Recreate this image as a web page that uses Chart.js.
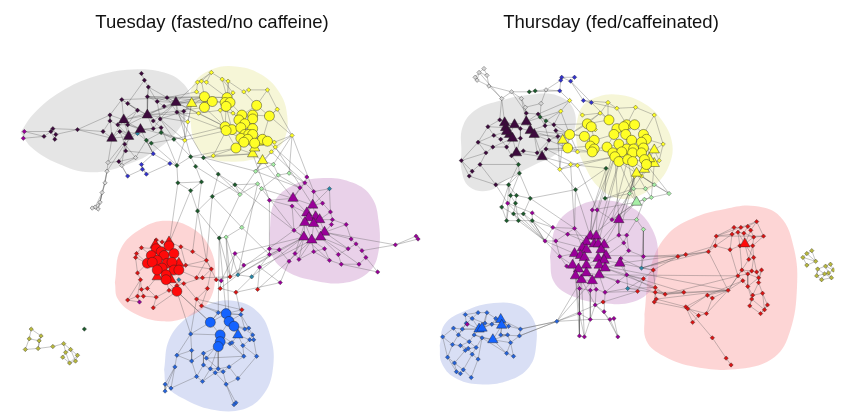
<!DOCTYPE html>
<html>
<head>
<meta charset="utf-8">
<script src="https://cdn.jsdelivr.net/npm/chart.js@4.4.0/dist/chart.umd.min.js"></script>
<style>
  body { margin: 0; background: #fff; }
  #wrap { position: relative; width: 841px; height: 419px; }
  .ttl { position: absolute; top: 11px; font: 18.5px "Liberation Sans", Arial, sans-serif; color: #111;
         transform: translateX(-50%); white-space: nowrap; }
</style>
</head>
<body>
<div id="wrap">
  <canvas id="net" width="841" height="419"></canvas>
  <div class="ttl" style="left:212px">Tuesday (fasted/no caffeine)</div>
  <div class="ttl" style="left:611px">Thursday (fed/caffeinated)</div>
</div>
<script>
// ---- Tuesday (fasted/no caffeine): node positions ----
const tueDarkTri = [[172,99],[119,117],[143,112],[136,127],[107,136],[124,134]];
const tueDark = [[137,69],[140,76],[144,83],[117,96],[123,100],[143,93],[153,98],[163,94],[133,107],[105,112],
  [105,118],[113,122],[123,122],[149,118],[156,116],[173,109],[157,125],[149,126],[98,129],[115,129],
  [120,142],[114,160],[121,149],[47,126],[45,129],[49,137],[38,134],[72,127],[50,132],[180,108],[160,103]];
const tueMagenta = [[18,129],[17,136]];
const tueViolet = [[149,152],[137,163],[138,168],[142,173],[123,175],[166,162]];
const tueGrey = [[103,161],[102,170],[100,182],[97,192],[95,202],[90,207],[87,208],[93,209],[131,156],[117,164]];
const tueGreen = [[142,138],[157,130],[147,141],[173,164],[170,137],[187,155],[192,165],[198,181],[174,182],[187,190],
  [194,211],[200,156],[215,173],[209,196],[232,184],[216,239],[79,333]];
const tueTeal = [[133,131],[235,277],[249,279],[175,282],[328,188]];
const tueLime = [[237,194],[253,170],[255,183],[259,188],[276,174],[239,228],[223,238],[271,163],[287,172]];
const tueYellowBig = [[201,93],[209,98],[201,104],[224,94],[222,99],[227,99],[223,103],[254,102],[239,112],[250,112],
  [267,113],[236,117],[250,116],[242,121],[222,124],[229,127],[238,125],[250,126],[223,128],[242,132],
  [246,132],[250,132],[238,136],[245,137],[260,137],[265,139],[252,141],[241,140],[233,146]];
const tueYellowTri = [[188,100],[250,152],[260,159],[252,146],[256,140]];
const tueYellow = [[208,68],[194,78],[198,77],[203,78],[219,75],[225,77],[241,88],[246,86],[265,86],[275,106],
  [195,110],[290,133],[181,138],[210,154],[272,140],[273,145],[269,150],[193,88],[230,89],[217,107],
  [230,110],[184,119]];
const tuePurpleTri = [[291,198],[311,205],[305,213],[314,217],[318,220],[307,218],[303,223],[312,224],[323,233],[302,238],
  [310,241],[319,238]];
const tuePurple = [[303,182],[298,187],[312,191],[321,203],[329,212],[331,220],[345,225],[330,225],[292,231],[350,240],
  [355,245],[361,252],[365,259],[358,266],[377,274],[340,266],[328,262],[312,253],[293,255],[287,263],
  [277,251],[267,250],[267,256],[297,261],[347,250],[337,256],[323,250],[395,246],[418,240],[416,237],
  [267,200],[232,255],[241,267],[257,269],[278,285],[218,283],[135,305],[305,176],[290,206]];
const tueRedBig = [[152,250],[157,253],[160,257],[165,247],[170,255],[147,257],[153,262],[143,265],[148,264],[163,265],
  [168,264],[158,270],[153,272],[170,272],[175,272],[162,277],[162,282],[173,294]];
const tueRedTri = [[151,246],[165,243],[175,265],[153,279],[167,282]];
const tueRed = [[137,249],[132,255],[131,259],[152,241],[158,243],[177,248],[189,253],[182,267],[203,262],[208,271],
  [199,280],[193,280],[204,291],[193,302],[198,309],[180,286],[165,293],[152,300],[139,299],[133,299],
  [143,291],[137,292],[123,303],[149,311],[173,288],[133,275],[136,282],[227,279],[217,291],[233,295],
  [239,313],[255,292],[213,282]];
const tueBlueBig = [[223,317],[207,326],[226,325],[231,330],[217,339],[217,346],[215,351]];
const tueBlueTri = [[235,339]];
const tueBlue = [[187,338],[188,355],[173,360],[188,366],[171,372],[161,390],[161,397],[167,394],[193,382],[199,387],
  [200,358],[200,370],[203,363],[207,374],[212,378],[215,374],[220,377],[226,372],[223,390],[235,384],
  [233,409],[231,411],[240,350],[247,344],[254,361],[241,361],[227,348],[229,347],[238,318],[242,333],
  [246,332],[250,339],[251,344],[215,316]];
const tueOlive = [[25,333],[35,340],[23,343],[33,345],[19,354],[32,353],[47,351],[58,348],[65,354],[60,357],
  [72,360],[57,362],[64,368],[70,366]];

// community outlines
const tueHullGrey = [[14,130],[28,110],[55,88],[90,72],[128,65],[160,68],[180,80],[187,98],[178,122],[155,146],
  [120,164],[85,171],[52,162],[26,146],[14,130]];
const tueHullYellow = [[186,112],[189,82],[208,65],[235,62],[260,71],[278,90],[285,112],[283,135],[271,150],[250,158],
  [225,160],[204,155],[191,140],[186,112]];
const tueHullPurple = [[267,235],[272,202],[292,184],[322,177],[352,182],[371,197],[378,222],[378,252],[369,273],[345,285],
  [313,283],[284,273],[269,256],[267,235]];
const tueHullRed = [[110,285],[116,250],[137,229],[162,221],[189,229],[206,248],[212,276],[205,305],[185,320],[158,325],
  [130,317],[113,302],[110,285]];
const tueHullBlue = [[160,375],[165,344],[182,322],[206,307],[232,304],[256,316],[268,340],[271,370],[262,399],[240,416],
  [208,416],[180,405],[163,392],[160,375]];

// edges: first id links to every following id
const tueEdges = [
  "k0 k1", "k1 k2 k4", "k2 K2 k5 k6 K0", "k3 k4 K1 k9 k8", "k4 K2 k8", "k5 K0 k6 k7 K2", "k6 k7 K0 k14",
  "k7 K0 k15", "k8 K2 K1 k12", "k9 k10 K1 K4", "k10 k11 k18", "k11 K1 k12 K5", "k12 K3 K2 K5", "k13 K2 K0 k16",
  "k14 K0 k29 k17", "k15 K0 y21 k29", "k16 K3 g1", "k17 K3 K2", "k18 K4 k27", "k19 K4 K5 k20", "k20 k22 K3",
  "k21 k22 w0 w8", "k22 K5", "k23 k24 k27 k28", "k24 k25 k26", "k25 k28", "k26 m0", "m0 m1 k24", "m1 k26",
  "k27 K4 k9", "k28 k27", "K0 Y0 Y1 YT0 y1 y10", "K2 K0 Y2 y21", "K1 K2 K4 K5", "K3 K5 K1", "k29 YT0 y12 Y0",
  "k30 K0 k6 K2", "k3 Y0", "K4 K5", "k12 y12", "k5 Y3", "k7 Y4 y17", "K0 Y14", "k15 Y18", "K2 y10", "k14 y12", "K1 Y0",
  "w0 w1 K4 K5", "w1 w2 k20", "w2 w3 w1", "w3 w4 w5", "w4 w5 w6 w7", "w5 w6", "w6 w7", "w7 w3", "w1 w4", "w2 w7",
  "w8 w9 k20 g0", "w9 n4 k21",
  "n0 n1 g0 k22", "n1 n2 n3", "n2 n3 n4", "n3 n5", "n5 g3 n0", "n4 k21",
  "g0 g1 t0 g2", "g1 g4 y12", "g2 g3 g4", "g3 g5 g8", "g4 g5 Y14", "g5 g6 g11", "g6 g7 l0", "g7 g8 g9", "g8 g9 R3",
  "g9 g10", "g10 g13 r8 g15", "g11 g12 YT1", "g12 g14 g13", "g13 g14 l5", "g14 l0 l2 p8", "g15 l6 r27 B0", "t0 K3 k19",
  "l0 l1 l2", "l1 l7 YT2 y16", "l2 l3", "l3 l4 P0", "l4 l7 l8 p1", "l5 l6 l3 p22", "l6 r27 t1 B2", "l7 YT2 y11", "l8 p0 y11",
  "Y0 Y1 Y2 Y3 y17", "Y1 Y4 Y2 YT0", "Y2 y10 Y14", "Y3 Y4 Y5 y4 y5", "Y4 Y6 Y11", "Y5 Y6 Y8 y18", "Y6 Y14 Y15",
  "Y7 Y8 Y9 Y10 y8", "Y8 Y9 Y11 Y12", "Y9 Y10 Y12 Y17", "Y10 Y24 y9 y11", "Y11 Y13 Y16", "Y12 Y13 Y17 Y21",
  "Y13 Y16 Y19", "Y14 Y15 Y18", "Y15 Y16 Y18 Y22", "Y16 Y19 Y20", "Y17 Y21 Y24", "Y18 Y28 Y22", "Y19 Y20 Y22 Y27",
  "Y20 Y21 Y23", "Y21 Y26 Y24", "Y22 Y23 Y28", "Y23 Y26 Y27", "Y24 Y25 YT4", "Y25 YT3 y14", "Y26 YT3 YT4",
  "Y27 Y28 YT3", "Y28 YT1 y13", "YT1 YT2 YT3", "YT2 y16 l1", "YT0 y12 y21", "y0 y1 y2 y3 y4", "y1 y17 y2", "y2 y3 Y0",
  "y3 Y3", "y4 y5 y18", "y5 y6 Y5", "y6 y7 Y7", "y7 y8", "y8 y9", "y9 Y10 y11", "y10 y19 Y14", "y11 y14 y15",
  "y13 YT1 Y18", "y15 y16", "y19 Y18 y20", "y20 Y13", "y12 Y18",
  "YT2 P0", "y16 p0", "Y25 p37", "YT1 p30", "y15 P1", "y11 p2",
  "P0 P1 P2 p0 p1", "P1 P2 P3 p2", "P2 P3 P5 P6", "P3 P4 P5 P7", "P4 P7 P8 p4 p5", "P5 P6 P7", "P6 P9 P10",
  "P7 P10 P11 P8", "P8 P11 p7 p6", "P9 P10 p8 p18 p23", "P10 P11 p17 p26", "P11 p25 p24", "p0 p37 p1 p2", "p2 p3",
  "p3 p4 P1", "p4 p5", "p5 p6 p7", "p6 p9", "p9 p10 P8", "p10 p11 p24", "p11 p12 p27", "p12 p13 p14", "p13 p15 P11",
  "p14 p15", "p15 p16 p25", "p16 p17 P9", "p17 p23 p26", "p18 p19 p23 P6", "p19 p20 p34", "p20 p21 p22 P9",
  "p21 p22 p30", "p22 p33 p32", "p23 P10", "p24 p25 P8", "p27 p28 p29 P8", "p28 p29", "p30 P0 p38", "p38 P2 P6",
  "p8 P6 P9 p38", "p31 p32 P9", "p33 p34 P10", "p35 p31 r28", "t4 p2 P1 p4", "p26 p16",
  "r27 p31 p32 t1", "t1 t2 p32 P9", "t2 p33 P9", "r29 t2 p34 b28", "r28 r29 t1", "r31 p33 P10", "r30 B0 b28", "r32 r27 p35",
  "R0 R1 R3 RT0 r3", "R1 R2 R4 R3", "R2 R6 R9", "R3 R4 RT1 r4", "R4 R9 R10 r5", "R5 R6 R7 R8", "R6 R8 R11 R12",
  "R7 R8 r2", "R9 R10 R11", "R10 R13 RT2", "R11 R12 R15", "R12 RT3 R15", "R13 R14 RT4", "R14 RT2 r7", "R15 R16 RT4",
  "R16 RT3 R17", "R17 r24 r16 B1", "RT1 r4 r5", "r0 r1 R0 R5", "r1 r2 R7", "r2 r25", "r3 r4 RT0", "r5 r6 r7", "r6 r8",
  "r7 r8 r9", "r8 r9 r11 r32", "r9 r10 r12", "r10 r11 r15", "r11 R14", "r12 r13 r14", "r13 r14 r15", "r15 r24 R16",
  "r16 r17 R16", "r17 r18 r20", "r18 r19 r21", "r19 r22 r26", "r20 r21 RT3", "r21 r26", "r22 r26", "r23 r17 R17",
  "r25 r26 R7", "r24 r16", "p36 r22 r19",
  "r14 B0 b33", "R17 b0 B1", "r13 r30 b0", "r10 r27",
  "B0 B1 B2 b33 b28", "B1 B4 b0 b33", "B2 B3 B4 b28", "B3 BT0 b29 b30", "B4 B5 B6 b27", "B5 B6 b26 b12",
  "B6 b10 b15 b13", "BT0 b22 b23 b27", "b0 b1 b2 B4", "b1 b3 b2", "b2 b4 b3", "b3 b8 b10", "b4 b5 b6 b7", "b5 b6 b7",
  "b7 b8", "b8 b9 b11", "b9 b13 b14", "b10 b11 b12", "b11 b13", "b12 b15 b25", "b13 b14 b15", "b14 b16 b18",
  "b15 b16 b17", "b16 b17 b18", "b17 b19 b25", "b18 b19 b20 b21", "b19 b24", "b20 b21", "b22 b23 b25 b24",
  "b23 b31 b32", "b24 b32", "b25 b26 b27", "b26 b27", "b28 b29 b30 B0", "b29 b30 b31", "b30 b31", "b31 b32", "b33 B1 g15",
  "o0 o1 o2", "o1 o3 o5", "o2 o3 o4", "o3 o5", "o4 o5", "o5 o6", "o6 o7", "o7 o8 o9", "o8 o9 o10 o13", "o9 o11 o12",
  "o10 o13 o12", "o11 o12", "o12 o13",
  "y13 g11", "Y28 g5", "k16 g3", "K3 n0", "g0 n0", "k20 w9", "g11 l1", "g12 l0", "l1 p1", "K0 g5", "k15 g11", "y12 g3",
  "g7 r6", "g9 R2", "l0 g15", "l2 t1", "l3 p8", "p8 r27", "p20 t1", "g13 r8", "k14 g4"
];

// ---- Thursday (fed/caffeinated) ----
const thuDarkTri = [[506,120],[516,122],[528,119],[507,125],[511,132],[514,136],[532,128],[536,132],[518,151],[544,155],
  [508,129]];
const thuDark = [[489,124],[501,117],[479,140],[494,145],[487,151],[462,159],[481,163],[473,170],[470,175],[497,184],
  [508,145],[513,154],[525,149],[539,151],[548,147],[551,138],[547,123],[556,122],[558,128],[560,134],
  [528,110],[540,111],[522,126],[502,137],[522,136],[495,133]];
const thuGrey = [[480,68],[476,73],[488,71],[478,76],[490,82],[503,95],[513,88],[523,95],[548,86],[543,100],[527,104],[485,64]];
const thuGreen = [[531,88],[542,114],[548,118],[520,163],[521,172],[510,184],[512,195],[518,195],[503,207],[515,214],
  [525,214],[532,198],[520,221],[508,221],[534,221],[517,203],[578,189],[609,167],[608,198],[537,87]];
const thuViolet = [[564,73],[577,73],[573,77],[563,76],[562,87],[586,97],[594,99]];
const thuYellowBig = [[590,121],[594,124],[612,117],[630,122],[638,122],[620,126],[627,124],[572,132],[587,134],[597,138],
  [617,132],[629,132],[647,132],[650,137],[635,138],[645,140],[570,146],[593,144],[597,147],[610,145],
  [622,142],[595,150],[630,147],[637,147],[647,146],[616,151],[625,150],[636,151],[645,151],[618,155],
  [622,160],[631,158],[636,160],[648,158],[650,163]];
const thuYellowTri = [[565,138],[658,148],[658,162],[640,172],[648,168],[653,157],[641,151]];
const thuYellow = [[611,99],[620,105],[639,104],[658,112],[603,110],[572,97],[563,108],[598,127],[667,142],[663,159],
  [645,175],[573,163],[580,164],[562,168],[638,175],[585,112],[580,150]];
const thuLime = [[633,193],[649,188],[655,197],[658,184],[673,193],[637,188],[648,199],[640,220],[647,230]];
const thuLimeTri = [[640,202]];
const thuPurpleTri = [[622,220],[593,237],[599,237],[589,243],[597,245],[601,245],[607,246],[585,249],[589,251],[604,251],
  [577,255],[583,257],[609,257],[587,259],[601,260],[607,262],[575,267],[581,271],[589,267],[602,267],
  [608,270],[623,265],[578,278],[584,282],[589,275],[595,283],[602,277]];
const thuPurple = [[595,210],[600,210],[615,220],[577,229],[547,242],[558,242],[562,258],[569,268],[622,236],[630,236],
  [627,244],[632,252],[624,260],[630,277],[621,284],[582,291],[593,293],[599,292],[608,295],[598,308],
  [607,315],[582,317],[593,323],[613,323],[617,322],[582,340],[587,341],[621,341],[647,258],[468,328],
  [509,203],[534,213],[555,228],[570,235]];
const thuTeal = [[645,270],[631,291]];
const thuRed = [[762,222],[739,228],[746,228],[753,227],[756,231],[737,235],[743,233],[749,234],[721,237],[769,237],
  [759,238],[720,247],[735,251],[745,247],[758,247],[713,253],[690,256],[682,258],[754,261],[759,259],
  [747,272],[757,273],[762,274],[767,272],[743,278],[753,276],[748,283],[764,280],[753,289],[764,285],
  [733,293],[758,298],[768,296],[757,302],[773,308],[755,309],[770,313],[766,317],[717,301],[712,298],
  [688,295],[669,297],[659,290],[659,295],[660,302],[658,305],[690,310],[692,312],[703,319],[711,317],
  [697,326],[717,342],[731,363],[736,370],[657,272],[647,281],[641,294],[606,305]];
const thuRedTri = [[750,245]];
const thuBlueTri = [[502,323],[503,329],[480,333],[483,332],[494,344]];
const thuBlue = [[466,318],[479,316],[488,316],[497,322],[493,328],[486,327],[473,322],[467,327],[463,333],[454,332],
  [443,341],[459,339],[453,349],[461,350],[470,346],[475,339],[483,342],[477,352],[469,353],[473,359],
  [466,355],[448,362],[479,364],[455,368],[464,375],[457,377],[461,379],[472,383],[522,333],[521,340],
  [509,339],[512,347],[508,358],[515,361],[502,339],[510,330],[559,325]];
const thuOlive = [[813,255],[818,252],[822,263],[813,267],[809,259],[824,271],[832,268],[837,266],[835,275],[838,280],
  [823,278],[828,282],[840,272],[831,276]];

const thuHullGrey = [[462,150],[463,125],[476,107],[502,97],[532,91],[560,92],[576,106],[576,130],[560,151],[535,164],
  [510,177],[490,190],[470,186],[462,168],[462,150]];
const thuHullYellow = [[578,125],[585,103],[601,93],[622,91],[646,99],[664,115],[676,140],[673,164],[659,184],[638,197],
  [618,197],[600,185],[588,166],[580,145],[578,125]];
const thuHullPurple = [[552,258],[559,225],[579,207],[605,200],[636,208],[656,230],[662,260],[656,290],[636,305],[605,306],
  [575,299],[556,284],[552,258]];
const thuHullRed = [[648,318],[654,270],[670,237],[696,219],[730,209],[760,206],[786,217],[800,250],[803,290],[796,335],
  [780,362],[745,374],[700,372],[668,361],[650,345],[648,318]];
const thuHullBlue = [[440,350],[445,328],[466,314],[495,306],[521,309],[536,325],[538,350],[531,372],[510,386],[480,390],
  [455,383],[442,368],[440,350]];

const thuEdges = [
  "w0 w1 w2 w3 w11", "w1 w3", "w2 w4 w11", "w3 w4", "w4 w5 w6", "w5 w6 k1 K0", "w6 w7 g0", "w7 w10 K2", "w8 w9 g19 n4",
  "w9 w10 g1", "w10 K2 k20", "w0 w5", "w6 k20", "n3 w8",
  "K0 K1 K3 K10 k1", "K1 K2 K10 K4", "K2 K6 k20 k21", "K3 K10 K4 k0", "K4 K5 K10 k23", "K5 K8 k24 k10", "K6 K7 k22 k16",
  "K7 K9 k13 k19", "K8 K9 k11 k12", "K9 k13 k14", "K10 k25", "k0 k1 k2 k25", "k1 K1", "k2 k3 k4 k5", "k3 k4 K5 k10",
  "k4 k6 k5", "k5 k7 k8", "k6 k7 k9 g3", "k7 k8", "k8 k9", "k9 g5 g4", "k10 k11 k23", "k11 k12 g3", "k12 k13",
  "k13 k14 k15", "k14 k15 y16", "k15 k16 k19", "k16 k17 k21", "k17 k18 Y7", "k18 k19 YT0", "k19 Y7 y13", "k20 k21",
  "k21 g1", "k22 k24 K1", "k24 K8", "k25 k23 k2", "g1 g2 k17", "g2 y6 k16",
  "K6 Y7 YT0", "K7 Y16", "k17 Y0 y6", "k18 Y8", "K2 y6", "k21 y5", "K9 y11 y13", "k14 Y16 y12",
  "g0 g19 n4", "g3 g4 g5", "g4 g5 g6 g11", "g5 g6 g7 g8", "g6 g7 g13 g15", "g7 g11 g15", "g8 g9 g13", "g9 g12 g15 g10",
  "g10 g14 g11", "g11 g16", "g12 g13 g14", "g13 p30", "g14 p31 p4", "g15 g12", "g16 y13 g17", "g17 y11 g18", "g18 l5 l0",
  "n0 n1 n2 n3", "n1 n2", "n3 n4", "n2 n5 n6", "n4 y5", "n5 n6 y0", "n6 y1 Y2",
  "Y0 Y1 Y2 Y7 y4", "Y1 Y8 Y9 y7", "Y2 Y5 y0 y4", "Y3 Y4 Y6 y1 y2", "Y4 Y12 Y11", "Y5 Y6 Y10 Y11", "Y6 Y11 Y14",
  "Y7 Y8 YT0 Y16", "Y8 Y9 Y17", "Y9 Y10 Y18 Y17", "Y10 Y19 Y20", "Y11 Y14 Y22", "Y12 Y13 Y15 y3", "Y13 Y15 YT5 y8",
  "Y14 Y15 Y23", "Y15 Y24", "Y16 Y17 Y21 y16", "Y17 Y18 Y21", "Y18 Y19 Y25", "Y19 Y20 Y25 Y26", "Y20 Y22 Y26",
  "Y22 Y23 Y27", "Y23 Y24 Y28 YT6", "Y24 YT1 YT5", "Y25 Y29 Y26", "Y26 Y30 Y31", "Y27 Y28 Y32", "Y28 Y33 YT5",
  "Y29 Y30 y11 y12", "Y30 Y31 YT3", "Y31 Y32 YT3", "Y32 Y33 YT4", "Y33 Y34 YT2", "Y34 YT4 YT2", "YT1 YT5 y8 y9",
  "YT2 y9 y10", "YT3 y14 YT4", "YT4 y10", "y0 y1 y4", "y1 y2", "y2 y3", "y3 y8", "y4 y15 Y7", "y5 y6 y15", "y6 Y7",
  "y7 Y0", "y9 y8", "y13 y11 y12", "y16 Y21 Y7", "YT0 y16 y13",
  "y14 l0 l5", "YT3 l1 l3", "y10 l3 l4", "YT2 l2", "Y30 LT0", "Y29 p0 P0", "y11 p3", "y12 p1", "Y34 l4", "Y31 LT0 p2",
  "y14 P0 p8", "P1 Y29 Y25", "P2 Y30 y14", "P0 YT3", "P5 Y26", "p2 y10",
  "l0 l5 LT0", "l1 l3 l2", "l2 l6 LT0", "l3 l4", "l4 l2", "l5 l1", "l6 l7 LT0", "l7 l8 P0", "l8 p28 t0", "LT0 P0 p2 p0 P1",
  "l7 p9",
  "P0 p2 p8 P6 P5", "P1 P2 P3 P4 p0", "P2 P5 P4", "P3 P4 P7 P8", "P4 P5 P8 P9", "P5 P6 P9", "P6 P9 P12 P15",
  "P7 P8 P10 P11", "P8 P13 P11", "P9 P12 P14", "P10 P11 P16 P13", "P11 P13 P17", "P12 P15 P20", "P13 P14 P18",
  "P14 P18 P19", "P15 P20 P21", "P16 P17 P22 p7", "P17 P22 P23 P24", "P18 P19 P24", "P19 P20 P26", "P20 P21 P26",
  "P21 p12 p13", "P22 P23 p15", "P23 P25 p15", "P24 P25 P26", "P25 P26 p16 p17", "P26 p18", "p0 p1 P1", "p1 p2 P2",
  "p3 P3 P7 p5", "p4 p5 P10 p32", "p5 P7", "p6 p7 P10 p5", "p7 P16", "p8 p9 p10 P6", "p9 p10 p11", "p10 p11 P12",
  "p11 p12 p28", "p12 p13 t0", "p13 p14 t1", "p14 P26 p18", "p15 p16 p21 p25", "p16 p17 p22", "p17 p18 p19",
  "p18 p20 t1", "p19 p22 p20", "p21 p22 p26", "p22 p23 p26", "p23 p24 p27", "p25 p26 p21", "p27 p24 p20", "p30 p31 p4",
  "p31 p32", "p32 p33 p3", "p33 P1 P3", "p19 p23", "P22 p21 p25", "P23 p26 p19",
  "p4 g14 g10", "p3 g11 g16", "p32 g14", "P1 g16", "p0 g17", "P16 p6", "p4 g12 g9", "p5 g14", "p6 p4", "k9 p30", "g5 p30",
  "t0 r17 r16 p28", "r54 r55 t0", "r55 r56 t1", "r56 p18 r57", "r57 p19", "P21 r16 r54", "P12 r17", "p28 r16",
  "p13 r55", "t1 r42 r41", "P20 r40 r42", "P26 r43", "P19 r30", "P26 r24", "p13 r41", "t0 r15",
  "p22 b36", "b36 b28 b29 r57", "p21 b36", "P23 b36", "b36 P25",
  "r0 r3 r9 r4", "r1 r2 r5 r8", "r2 r3 r6", "r3 r4 r7", "r4 r10 RT0", "r5 r6 r11 r12", "r6 r7 RT0 r13", "r7 RT0 r10",
  "r8 r11 r15 r5", "r9 r10 r14", "r10 r14 RT0", "r11 r12 r15", "r12 r13", "r13 RT0 r14", "r14 r18 r19", "r15 r16 r17",
  "r16 r17", "r17 r54", "RT0 r18 r19", "r18 r19 r20", "r19 r22 r21", "r20 r21 r24 r25", "r21 r22 r25", "r22 r23 r27",
  "r23 r27 r29", "r24 r25 r26 r30", "r25 r27 r28", "r26 r28 r30", "r27 r29 r28", "r28 r31 r33", "r29 r32 r31",
  "r30 r38 r39 r40", "r31 r32 r33 r35", "r32 r34 r36", "r33 r35 r36", "r34 r36 r37", "r35 r37", "r36 r37",
  "r38 r39 r49", "r39 r46 r47", "r40 r41 r43", "r41 r42 r43", "r42 r54", "r43 r44 r45", "r44 r45 r46", "r45 r47",
  "r46 r47 r48 r50", "r47 r49", "r48 r49 r50", "r49 r30", "r47 r51", "r51 r52", "r52 r53", "r12 r24", "r13 r20",
  "r15 r30", "r30 r44 r41", "r16 r11", "r8 r9 r0", "r20 r30", "r24 r41", "r26 r39",
  "B0 B1 B3 b3 b35", "B1 B4 b4 b34", "B2 B3 b6 b7 b8", "B3 b5 b4 b2", "B4 b15 b16 b30", "b0 b1 b6 b7", "b1 b2 b6",
  "b2 b3 b5", "b3 b4 b35", "b4 b5", "b5 b6 b15", "b6 b7", "b7 b8 b11", "b8 b9 b11 B2", "b9 b10 b11", "b10 b12 b21",
  "b11 b14 b12", "b12 b13 b21", "b13 b14 b18 b20", "b14 b15 b17", "b15 b16", "b16 b17 b22", "b17 b18 b19",
  "b18 b20 b19", "b19 b22 b24", "b20 b23", "b21 b23 b25", "b22 b27", "b23 b24 b25", "b24 b26 b27", "b25 b26",
  "b28 b29 b35 B0", "b29 b31 b34", "b30 b31 b34", "b31 b32 b33", "b32 b33 B4", "b34 B1 b30", "b35 B0", "b28 b36",
  "b29 b36", "b16 b32", "B4 b31",
  "o0 o1 o2 o4", "o1 o2", "o2 o3 o4", "o3 o4", "o5 o6 o10 o13", "o6 o7 o8 o12", "o7 o12", "o8 o9 o12 o13",
  "o9 o11 o13", "o10 o11 o13", "o11 o13", "o5 o10"
];

const tueGroups = { K: tueDarkTri, k: tueDark, m: tueMagenta, n: tueViolet, w: tueGrey, g: tueGreen, t: tueTeal,
  l: tueLime, Y: tueYellowBig, YT: tueYellowTri, y: tueYellow, P: tuePurpleTri, p: tuePurple, R: tueRedBig,
  RT: tueRedTri, r: tueRed, B: tueBlueBig, BT: tueBlueTri, b: tueBlue, o: tueOlive };
const thuGroups = { K: thuDarkTri, k: thuDark, w: thuGrey, g: thuGreen, n: thuViolet, Y: thuYellowBig,
  YT: thuYellowTri, y: thuYellow, l: thuLime, LT: thuLimeTri, P: thuPurpleTri, p: thuPurple, t: thuTeal,
  r: thuRed, RT: thuRedTri, B: thuBlueTri, b: thuBlue, o: thuOlive };

function pts(arr) { return arr.map(p => ({ x: p[0], y: p[1] })); }

function lookup(groups, id) {
  const m = /^([A-Za-z]+)(\d+)$/.exec(id);
  const node = m && groups[m[1]] && groups[m[1]][+m[2]];
  if (!node) console.warn('missing node', id);
  return node;
}

function edgeSet(groups, lines) {
  const data = [];
  lines.forEach(line => {
    const ids = line.trim().split(/\s+/);
    const a = lookup(groups, ids[0]);
    ids.slice(1).forEach(id => {
      const b = lookup(groups, id);
      if (!a || !b) return;
      data.push({ x: a[0], y: a[1] }, { x: b[0], y: b[1] }, { x: null, y: null });
    });
  });
  return { type: 'line', data: data, borderColor: 'rgba(90,90,90,0.5)', borderWidth: 0.7, pointRadius: 0,
    tension: 0, fill: false, spanGaps: false, order: 5 };
}

function hull(arr, color) {
  return { type: 'line', data: pts(arr), fill: 'shape', backgroundColor: color, borderColor: 'rgba(0,0,0,0)',
    borderWidth: 0, pointRadius: 0, tension: 0.4, order: 10 };
}

function nodes(arr, color, style, r, order) {
  return { type: 'scatter', data: pts(arr), pointStyle: style, pointRadius: r, pointBackgroundColor: color,
    pointBorderColor: 'rgba(35,35,35,0.75)', pointBorderWidth: r > 3 ? 0.6 : 0.5, order: order };
}

const C = { dark: '#3d0a3d', yellow: '#ffff26', purple: '#990099', red: '#ff0a0a', redS: '#d91414',
  blue: '#1463ff', blueS: '#2563d9', green: '#1c5a2c', lime: '#a6eea6', teal: '#2a88a8', grey: '#d8d8d8',
  violet: '#3232cc', olive: '#b9b93e' };
const HULL = { grey: 'rgba(190,190,190,0.4)', yellow: 'rgba(238,238,175,0.5)', purple: 'rgba(200,140,200,0.4)',
  red: 'rgba(250,150,150,0.4)', blue: 'rgba(160,175,230,0.4)' };

const datasets = [
  hull(tueHullGrey, HULL.grey), hull(tueHullYellow, HULL.yellow), hull(tueHullPurple, HULL.purple),
  hull(tueHullRed, HULL.red), hull(tueHullBlue, HULL.blue),
  hull(thuHullGrey, HULL.grey), hull(thuHullYellow, HULL.yellow), hull(thuHullPurple, HULL.purple),
  hull(thuHullRed, HULL.red), hull(thuHullBlue, HULL.blue),
  edgeSet(tueGroups, tueEdges), edgeSet(thuGroups, thuEdges),

  nodes(tueDark, C.dark, 'rectRot', 2.2, 2), nodes(tueMagenta, C.purple, 'rectRot', 2.2, 2),
  nodes(tueViolet, C.violet, 'rectRot', 2.2, 2), nodes(tueGrey, C.grey, 'rectRot', 2.2, 2),
  nodes(tueGreen, C.green, 'rectRot', 2.2, 2), nodes(tueTeal, C.teal, 'rectRot', 2.2, 2),
  nodes(tueLime, C.lime, 'rectRot', 2.2, 2), nodes(tueYellow, C.yellow, 'rectRot', 2.2, 2),
  nodes(tuePurple, C.purple, 'rectRot', 2.2, 2), nodes(tueRed, C.redS, 'rectRot', 2.2, 2),
  nodes(tueBlue, C.blueS, 'rectRot', 2.2, 2), nodes(tueOlive, C.olive, 'rectRot', 2.2, 2),
  nodes(tueDarkTri, C.dark, 'triangle', 6, 1), nodes(tueYellowBig, C.yellow, 'circle', 5, 1),
  nodes(tueYellowTri, C.yellow, 'triangle', 6, 1), nodes(tuePurpleTri, C.purple, 'triangle', 6, 1),
  nodes(tueRedBig, C.red, 'circle', 5, 1), nodes(tueRedTri, C.red, 'triangle', 6, 1),
  nodes(tueBlueBig, C.blue, 'circle', 5, 1), nodes(tueBlueTri, C.blue, 'triangle', 6, 1),

  nodes(thuDark, C.dark, 'rectRot', 2.2, 2), nodes(thuGrey, C.grey, 'rectRot', 2.2, 2),
  nodes(thuGreen, C.green, 'rectRot', 2.2, 2), nodes(thuViolet, C.violet, 'rectRot', 2.2, 2),
  nodes(thuYellow, C.yellow, 'rectRot', 2.2, 2), nodes(thuLime, C.lime, 'rectRot', 2.2, 2),
  nodes(thuPurple, C.purple, 'rectRot', 2.2, 2), nodes(thuTeal, C.teal, 'rectRot', 2.2, 2),
  nodes(thuRed, C.redS, 'rectRot', 2.2, 2), nodes(thuBlue, C.blueS, 'rectRot', 2.2, 2),
  nodes(thuOlive, C.olive, 'rectRot', 2.2, 2),
  nodes(thuDarkTri, C.dark, 'triangle', 6, 1), nodes(thuYellowBig, C.yellow, 'circle', 5, 1),
  nodes(thuYellowTri, C.yellow, 'triangle', 6, 1), nodes(thuLimeTri, C.lime, 'triangle', 6, 1),
  nodes(thuPurpleTri, C.purple, 'triangle', 6, 1), nodes(thuRedTri, C.red, 'triangle', 6, 1),
  nodes(thuBlueTri, C.blue, 'triangle', 6, 1)
];

new Chart(document.getElementById('net'), {
  type: 'scatter',
  data: { datasets: datasets },
  options: {
    responsive: false,
    animation: false,
    events: [],
    layout: { padding: 0 },
    scales: {
      x: { type: 'linear', min: 0, max: 841, display: false },
      y: { type: 'linear', min: 0, max: 419, reverse: true, display: false }
    },
    plugins: { legend: { display: false }, tooltip: { enabled: false } }
  }
});
</script>
</body>
</html>
